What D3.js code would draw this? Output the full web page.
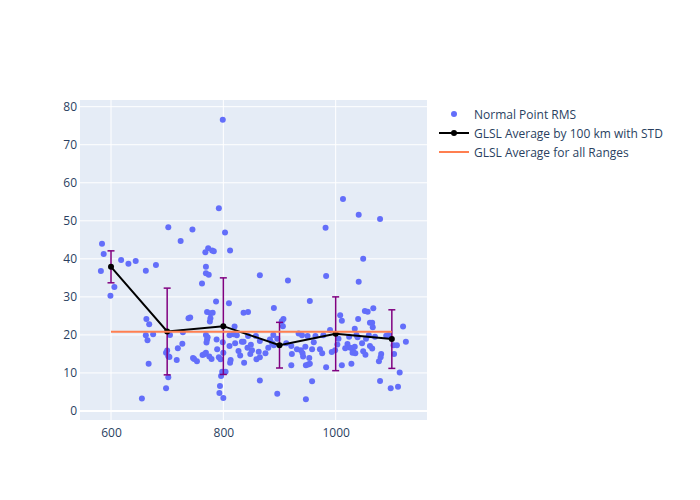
<!DOCTYPE html>
<html><head><meta charset="utf-8">
<script src="https://cdn.jsdelivr.net/npm/d3@7"></script>
<style>body{margin:0;background:#fff}svg{font-family:"Open Sans",Verdana,Arial,sans-serif}</style>
</head><body>
<svg id="c" width="700" height="500"></svg>
<script>
const pointRange = [584,587,582,618,631,644,662,680,702,724,745,768,773,780,783,769,769,774,762,792,799,803,812,865,915,982,983,1013,1041,1079,1049,1041,599,606,
663,668,662,665,675,738,667,698,700,702,705,719,727,717,728,702,698,655,748,753,704,
787,810,771,777,781,777,776,836,844,890,741,769,771,788,799,820,811,824,844,858,865,883,889,746,763,769,775,779,789,792,795,800,811,813,812,821,827,830,833,837,843,848,849,851,859,863,865,875,880,887,865,896,798,804,794,793,800,772,818,836,796,766,770,
954,907,904,906,1008,1011,1034,890,896,912,921,922,931,934,940,938,941,946,942,950,953,947,951,954,958,964,961,972,976,978,983,990,993,999,1011,1021,1026,1028,1031,1024,958,947,921,1052,1057,1067,1065,1061,1066,1120,1125,1114,1111,1098,1079,1040,1037,1039,1047,1054,1059,1061,1065,1034,1030,1035,1049,1053,1081,1080,1077,1103,1109,1104,1094,1003,1005,1017,1070,1090];
const pointRms = [44.0,41.3,36.8,39.7,38.7,39.4,36.9,38.4,48.3,44.7,47.7,41.7,42.8,42.2,42.0,37.9,36.2,35.8,33.5,53.3,76.6,46.9,42.2,35.7,34.3,48.2,35.5,55.7,51.6,50.5,40.0,34.0,30.3,32.6,
24.2,22.8,19.9,18.6,20.2,24.4,12.4,15.3,15.9,14.4,20.0,16.5,17.7,13.4,20.7,8.9,6.0,3.3,13.7,13.1,14.2,
28.8,28.3,26.0,25.7,25.8,24.4,23.5,25.8,26.0,27.1,24.6,20.0,18.8,18.8,18.1,22.2,19.9,19.9,19.7,19.7,18.4,18.8,20.0,13.9,14.7,15.3,14.3,13.7,16.2,14.1,13.6,15.3,17.1,13.4,12.7,17.8,15.8,14.6,18.2,12.7,16.6,15.0,17.4,16.0,13.6,15.6,14.1,15.2,16.6,17.8,8.0,4.5,10.3,10.3,6.6,4.7,3.4,19.4,20.2,18.2,9.2,14.9,18.0,
28.9,24.2,23.6,22.3,25.2,23.7,21.6,17.3,19.0,17.8,17.1,15.0,16.2,20.4,19.9,16.0,15.2,16.9,14.3,19.7,13.9,12.0,12.2,12.4,16.2,19.7,18.1,16.2,15.2,19.9,11.5,21.3,15.5,16.0,12.0,17.6,16.6,12.4,15.7,19.5,7.8,3.1,12.0,26.3,26.1,27.0,23.2,23.2,22.0,22.2,18.2,10.1,6.4,6.0,7.9,24.2,20.0,19.4,17.8,19.0,19.9,17.1,16.4,16.9,15.3,15.2,15.7,14.8,15.0,14.1,13.1,17.3,17.3,15.0,20.0,17.5,19.0,16.5,19.5,19.8];
const avgRange = [600,700,800,900,1000,1100];
const avgRms = [37.9,20.9,22.3,17.3,20.3,18.9];
const avgStd = [4.2,11.4,12.7,6.0,9.7,7.7];
const overallRange = [600,1100];
const overallRms = [20.8,20.8];
const xTicks = [600,800,1000];
const yTicks = [0,10,20,30,40,50,60,70,80];
const legendLabels = ["Normal Point RMS","GLSL Average by 100 km with STD","GLSL Average for all Ranges"];

const svg = d3.select("#c");
const L=80,T=100,R=427,B=420;
const x = d3.scaleLinear().domain([544.8,1162.6]).range([L,R]);
const y = d3.scaleLinear().domain([-2.37,81.76]).range([B,T]);
const txt = "#2a3f5f";

svg.append("rect").attr("x",L).attr("y",T).attr("width",R-L).attr("height",B-T).attr("fill","#e5ecf6");
const g = svg.append("g");
g.selectAll(".gx").data(xTicks).join("line").attr("x1",d=>x(d)).attr("x2",d=>x(d)).attr("y1",T).attr("y2",B).attr("stroke","#fff").attr("stroke-width",1);
g.selectAll(".gy").data(yTicks).join("line").attr("x1",L).attr("x2",R).attr("y1",d=>y(d)).attr("y2",d=>y(d)).attr("stroke","#fff").attr("stroke-width",d=>d===0?2:1);

const xa = d3.axisBottom(x).tickValues(xTicks).tickFormat(d3.format("d")).tickSize(0).tickPadding(8);
const xg = svg.append("g").attr("transform",`translate(0,${B})`).call(xa);
xg.select(".domain").remove();
xg.selectAll("text").attr("fill",txt).attr("font-size",12).attr("font-family","'Open Sans',Verdana,Arial,sans-serif");
const ya = d3.axisLeft(y).tickValues(yTicks).tickFormat(d3.format("d")).tickSize(0).tickPadding(3);
const yg = svg.append("g").attr("transform",`translate(${L},0)`).call(ya);
yg.select(".domain").remove();
yg.selectAll("text").attr("fill",txt).attr("font-size",12).attr("font-family","'Open Sans',Verdana,Arial,sans-serif");

const pts = pointRange.map((d,i)=>({x:d,y:pointRms[i]}));
svg.append("clipPath").attr("id","cp").append("rect").attr("x",L).attr("y",T).attr("width",R-L).attr("height",B-T);
const pg = svg.append("g").attr("clip-path","url(#cp)");
pg.selectAll("circle.p").data(pts).join("circle").attr("class","p")
  .attr("cx",d=>x(d.x)).attr("cy",d=>y(d.y)).attr("r",3).attr("fill","#636efa");

const avg = avgRange.map((d,i)=>({x:d,y:avgRms[i],s:avgStd[i]}));
const eg = pg.append("g").attr("stroke","#800080").attr("stroke-width",1.5);
avg.forEach(d=>{
  eg.append("line").attr("x1",x(d.x)).attr("x2",x(d.x)).attr("y1",y(d.y+d.s)).attr("y2",y(d.y-d.s));
  eg.append("line").attr("x1",x(d.x)-3.5).attr("x2",x(d.x)+3.5).attr("y1",y(d.y+d.s)).attr("y2",y(d.y+d.s));
  eg.append("line").attr("x1",x(d.x)-3.5).attr("x2",x(d.x)+3.5).attr("y1",y(d.y-d.s)).attr("y2",y(d.y-d.s));
});
const line = d3.line().x(d=>x(d.x)).y(d=>y(d.y));
pg.append("path").datum(avg).attr("d",line).attr("fill","none").attr("stroke","#000").attr("stroke-width",2);
pg.selectAll("circle.a").data(avg).join("circle").attr("class","a").attr("cx",d=>x(d.x)).attr("cy",d=>y(d.y)).attr("r",3).attr("fill","#000");
const ov = overallRange.map((d,i)=>({x:d,y:overallRms[i]}));
pg.append("path").datum(ov).attr("d",line).attr("fill","none").attr("stroke","#ff7f50").attr("stroke-width",2);

const lg = svg.append("g");
const ly = [114,133,152];
lg.append("circle").attr("cx",454).attr("cy",ly[0]).attr("r",3).attr("fill","#636efa");
lg.append("line").attr("x1",439).attr("x2",469).attr("y1",ly[1]).attr("y2",ly[1]).attr("stroke","#000").attr("stroke-width",2);
lg.append("circle").attr("cx",454).attr("cy",ly[1]).attr("r",3).attr("fill","#000");
lg.append("line").attr("x1",439).attr("x2",469).attr("y1",ly[2]).attr("y2",ly[2]).attr("stroke","#ff7f50").attr("stroke-width",2);
lg.selectAll("text").data(legendLabels).join("text").attr("x",474).attr("y",(d,i)=>ly[i]+4.5)
  .attr("fill",txt).attr("font-size",12).text(d=>d);
</script>
</body></html>
